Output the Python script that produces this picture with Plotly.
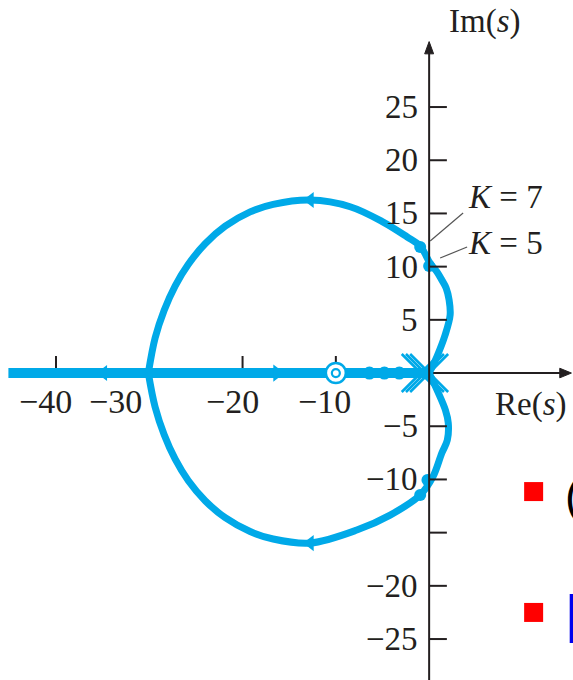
import plotly.graph_objects as go

# Root locus of L(s) = (s + 10)^2 / s^3, points read along each branch
upper_re = [0.0, 0.86, 1.71, 2.25, 2.14, 1.82, 1.36, 0.83, 0.11, -0.96, -2.39, -4.93,
            -8.47, -12.75, -16.72, -19.19, -21.86, -24.01, -25.83, -27.22, -28.40,
            -29.37, -30.1]
upper_im = [0.0, 1.60, 3.57, 5.45, 6.86, 7.99, 8.74, 9.52, 10.31, 11.94, 12.81, 14.19,
            15.63, 16.26, 15.85, 15.15, 13.80, 12.15, 10.20, 8.20, 5.90, 3.30, 0.0]
lower_re = [0.0, 0.90, 1.75, 2.05, 1.95, 1.36, 0.40, -0.96, -4.18, -7.75, -12.75,
            -16.72, -19.19, -21.86, -24.01, -25.83, -27.22, -28.40, -29.37, -30.1]
lower_im = [0.0, -1.70, -3.50, -4.70, -6.30, -7.52, -9.77, -11.47, -13.35, -14.76, -15.98,
            -15.60, -14.90, -13.60, -12.00, -10.10, -8.10, -5.80, -3.20, 0.0]
real_branch_re = [-45.1, 0.0]

# Open-loop poles (triple at origin) and double zero
pole_re = [-0.9, -0.45, 0.0]
zero_re = [-10.0]

# Gain markers K = 5 and K = 7 on the complex branches
gain_upper_re = [0.0, -0.96]
gain_upper_im = [10.06, 11.84]
gain_lower_re = [-0.18, -0.96]
gain_lower_im = [-10.06, -11.47]
bead_re = [-6.4, -4.8, -3.2]

# Direction arrows
arrow_left_re = [-34.9, -12.75, -12.75]
arrow_left_im = [0.0, 16.26, -15.98]
arrow_right_re = [-16.3]
arrow_right_im = [0.0]

# Axis ticks
MINUS = "\u2212"
x_ticks = [-40, -30, -20, -10]
x_tick_text = [MINUS + "40", MINUS + "30", MINUS + "20", MINUS + "10"]
x_label_right = [-38.05, -30.55, -18.06, -8.15]
y_ticks = [25, 20, 15, 10, 5, -5, -10, -15, -20, -25]
y_tick_text = {25: "25", 20: "20", 15: "15", 10: "10", 5: "5",
               -5: MINUS + "5", -10: MINUS + "10", -20: MINUS + "20", -25: MINUS + "25"}

BLUE = "#00A9E8"
INK = "#231f20"
SERIF = "Liberation Serif"

fig = go.Figure()

fig.add_trace(go.Scatter(x=real_branch_re, y=[0, 0], mode="lines",
                         line=dict(color=BLUE, width=10)))
fig.add_trace(go.Scatter(x=upper_re, y=upper_im, mode="lines",
                         line=dict(color=BLUE, width=7, shape="spline", smoothing=1.0)))
fig.add_trace(go.Scatter(x=lower_re, y=lower_im, mode="lines",
                         line=dict(color=BLUE, width=7, shape="spline", smoothing=1.0)))

fig.add_trace(go.Scatter(x=bead_re, y=[0] * len(bead_re), mode="markers",
                         marker=dict(symbol="circle", size=13, color=BLUE)))
fig.add_trace(go.Scatter(x=gain_upper_re + gain_lower_re, y=gain_upper_im + gain_lower_im,
                         mode="markers", marker=dict(symbol="circle", size=12, color=BLUE)))

fig.add_trace(go.Scatter(x=arrow_left_re, y=arrow_left_im, mode="markers",
                         marker=dict(symbol="triangle-left", size=14, color=BLUE)))
fig.add_trace(go.Scatter(x=arrow_right_re, y=arrow_right_im, mode="markers",
                         marker=dict(symbol="triangle-right", size=15, color=BLUE)))

# Poles: overlapping crosses at the origin
fig.add_trace(go.Scatter(x=pole_re, y=[0] * len(pole_re), mode="markers",
                         marker=dict(symbol="x-thin", size=38, color=BLUE,
                                     line=dict(color=BLUE, width=2.6))))
# Double zero: concentric rings
fig.add_trace(go.Scatter(x=zero_re, y=[0], mode="markers",
                         marker=dict(symbol="circle", size=20, color="white",
                                     line=dict(color=BLUE, width=2.5))))
fig.add_trace(go.Scatter(x=zero_re, y=[0], mode="markers",
                         marker=dict(symbol="circle-open", size=8, color=BLUE,
                                     line=dict(color=BLUE, width=2.2))))

# Slide bullets
fig.add_trace(go.Scatter(x=[11.2, 11.2], y=[-11.14, -22.5], mode="markers",
                         marker=dict(symbol="square", size=19, color="#ff0000")))

shapes = []
# x axis (left half lies under the real-axis branch)
shapes.append(dict(type="line", x0=-45, x1=14.2, y0=0, y1=0, layer="below",
                   line=dict(color=INK, width=2)))
shapes.append(dict(type="path", path="M 15.25,0 L 14.0,0.45 L 14.0,-0.45 Z",
                   fillcolor=INK, line=dict(color=INK, width=1)))
for t in x_ticks:
    shapes.append(dict(type="line", x0=t, x1=t, y0=0, y1=1.6, layer="below",
                       line=dict(color=INK, width=2)))
# y axis
shapes.append(dict(type="line", x0=0, x1=0, y0=-30, y1=30.2, layer="above",
                   line=dict(color=INK, width=2)))
shapes.append(dict(type="path", path="M 0,31.15 L -0.48,30.0 L 0.48,30.0 Z",
                   fillcolor=INK, line=dict(color=INK, width=1)))
for t in y_ticks:
    shapes.append(dict(type="line", x0=0, x1=1.9, y0=t, y1=t, layer="above",
                       line=dict(color=INK, width=2)))
# Leader lines for the gain labels
shapes.append(dict(type="line", x0=0.11, y0=12.41, x1=3.64, y1=15.04,
                   line=dict(color="#555555", width=1.2)))
shapes.append(dict(type="line", x0=1.18, y0=10.81, x1=4.07, y1=11.84,
                   line=dict(color="#555555", width=1.2)))

annotations = []
for lab, xr in zip(x_tick_text, x_label_right):
    annotations.append(dict(x=xr, y=-2.63, text=lab, showarrow=False,
                            xanchor="right", yanchor="middle",
                            font=dict(family=SERIF, size=34, color=INK)))
for t in y_ticks:
    if t in y_tick_text:
        annotations.append(dict(x=-0.95, y=t, text=y_tick_text[t], showarrow=False,
                                xanchor="right", yanchor="middle",
                                font=dict(family=SERIF, size=33, color=INK)))
annotations.append(dict(x=4.0, y=16.5, text="<i>K</i> = 7", showarrow=False,
                        xanchor="left", yanchor="middle",
                        font=dict(family=SERIF, size=33, color=INK)))
annotations.append(dict(x=4.0, y=12.2, text="<i>K</i> = 5", showarrow=False,
                        xanchor="left", yanchor="middle",
                        font=dict(family=SERIF, size=33, color=INK)))
annotations.append(dict(x=6.0, y=33.0, text="Im(<i>s</i>)", showarrow=False,
                        xanchor="center", yanchor="middle",
                        font=dict(family=SERIF, size=33, color=INK)))
annotations.append(dict(x=10.93, y=-3.0, text="Re(<i>s</i>)", showarrow=False,
                        xanchor="center", yanchor="middle",
                        font=dict(family=SERIF, size=33, color=INK)))
annotations.append(dict(x=14.3, y=-11.6, text="(", showarrow=False,
                        xanchor="left", yanchor="middle",
                        font=dict(family="Liberation Sans", size=46, color="#000000")))
annotations.append(dict(x=14.5, y=-22.6, text="[", showarrow=False,
                        xanchor="left", yanchor="middle",
                        font=dict(family="Liberation Sans", size=52, color="#0000ee")))

fig.update_layout(
    width=573, height=680,
    margin=dict(l=0, r=0, t=0, b=0),
    paper_bgcolor="white", plot_bgcolor="white",
    showlegend=False,
    xaxis=dict(range=[-46.0, 15.42], visible=False, fixedrange=True),
    yaxis=dict(range=[-28.85, 35.06], visible=False, fixedrange=True),
    shapes=shapes, annotations=annotations,
)

fig.write_html("out.html")
